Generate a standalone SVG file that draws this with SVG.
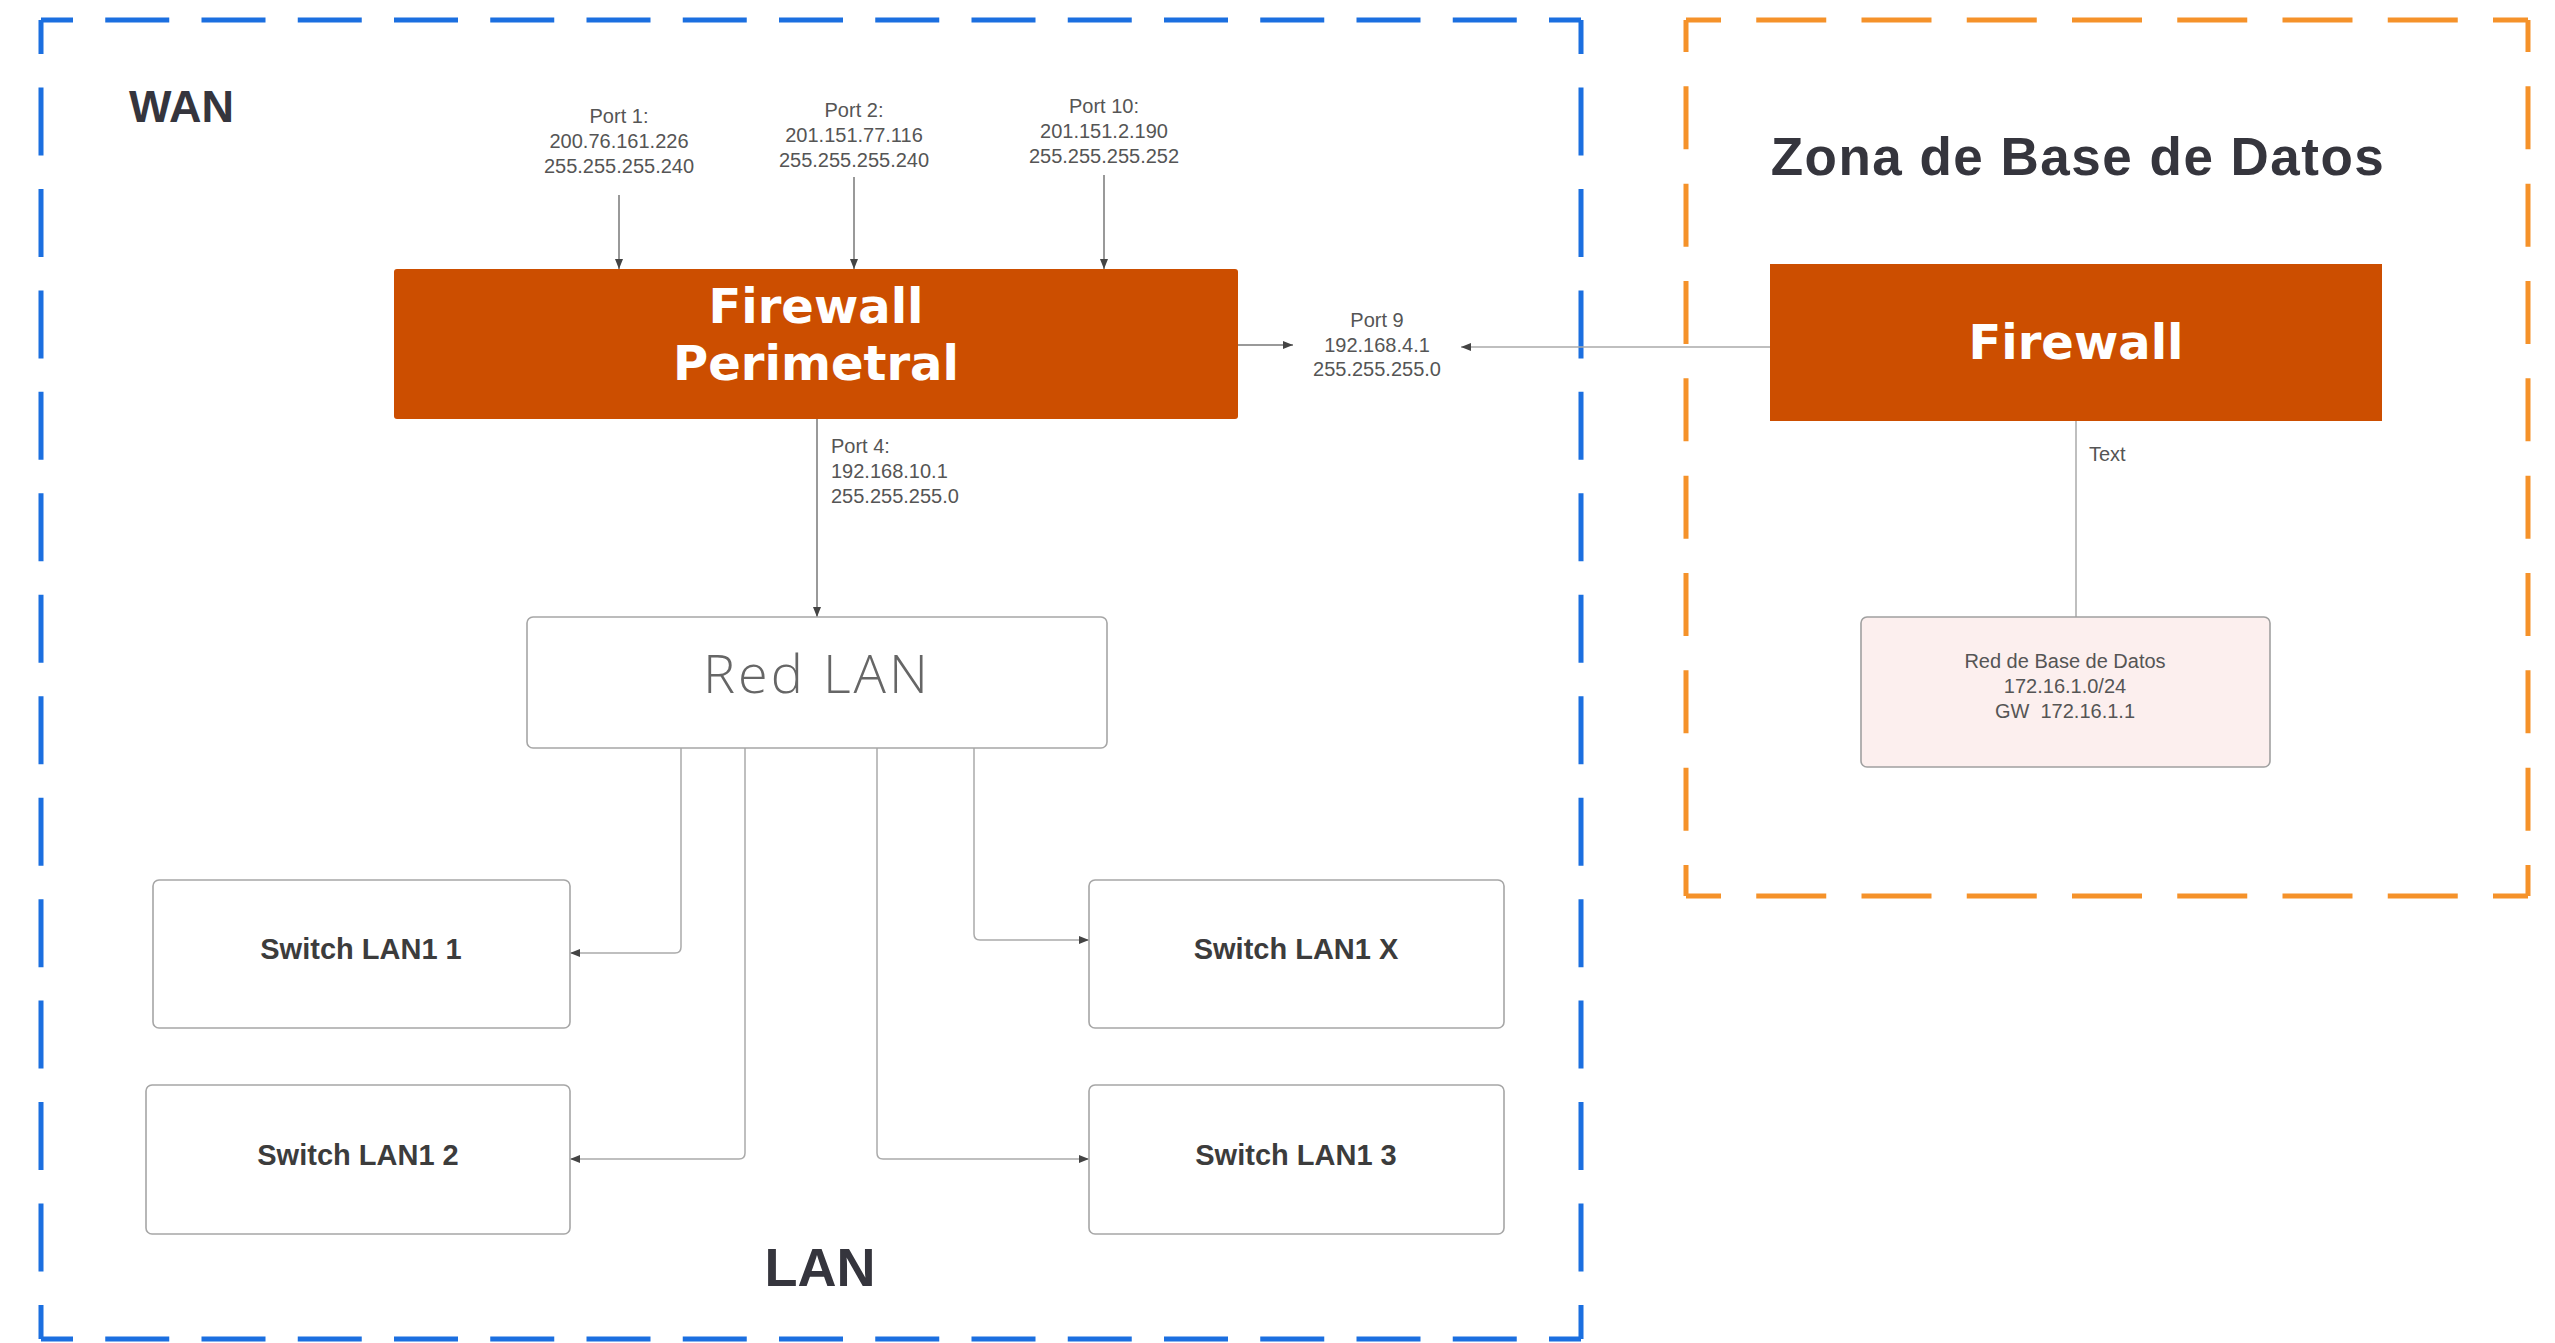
<svg xmlns="http://www.w3.org/2000/svg" width="2555" height="1343" viewBox="0 0 2555 1343">
<style>
.zone-blue{fill:none;stroke:#1b6fe0;stroke-width:5}
.zone-orange{fill:none;stroke:#f5922a;stroke-width:5}
.fw{fill:#cc4e00}
.fwt{font-family:"DejaVu Sans","Open Sans",sans-serif;font-weight:700;font-size:48px;fill:#ffffff;text-anchor:middle}
.box{fill:#ffffff;stroke:#a6a6a6;stroke-width:1.6}
.dbbox{fill:#fcefee;stroke:#a0a0a0;stroke-width:1.6}
.swt{font-family:"Liberation Sans",Arial,sans-serif;font-weight:700;font-size:29px;fill:#3c3c3c;text-anchor:middle}
.lbl{font-family:"Liberation Sans",Arial,sans-serif;font-size:20px;fill:#555555}
.mid{text-anchor:middle}
.title{font-family:"Liberation Sans",Arial,sans-serif;font-weight:700;fill:#35353d}
.redlan{font-family:"Open Sans","Lato",sans-serif;font-weight:300;font-size:54px;fill:#666666;text-anchor:middle;letter-spacing:3px}
.conn{fill:none;stroke:#777777;stroke-width:1.5}
.connl{fill:none;stroke:#aaaaaa;stroke-width:1.5}
</style>
<defs>
<marker id="arr" viewBox="0 0 10 8" refX="10" refY="4" markerWidth="11" markerHeight="8" markerUnits="userSpaceOnUse" orient="auto">
<path d="M0,0 L10,4 L0,8 z" fill="#444444"/>
</marker>
</defs>
<rect width="2555" height="1343" fill="#ffffff"/>

<g id="zone-wan">
<line class="zone-blue" x1="41" y1="20" x2="1581" y2="20" stroke-dasharray="64 32.25" stroke-dashoffset="32"/>
<line class="zone-blue" x1="41" y1="1339" x2="1581" y2="1339" stroke-dasharray="64 32.25" stroke-dashoffset="32"/>
<line class="zone-blue" x1="41" y1="20" x2="41" y2="1339" stroke-dasharray="68 33.46" stroke-dashoffset="34"/>
<line class="zone-blue" x1="1581" y1="20" x2="1581" y2="1339" stroke-dasharray="68 33.46" stroke-dashoffset="34"/>
<text class="title" x="129" y="122" font-size="45">WAN</text>
<text class="title" x="820" y="1286" font-size="54" text-anchor="middle">LAN</text>
</g>

<g id="zone-db">
<line class="zone-orange" x1="1686" y1="20" x2="2528" y2="20" stroke-dasharray="70 35.25" stroke-dashoffset="35"/>
<line class="zone-orange" x1="1686" y1="896" x2="2528" y2="896" stroke-dasharray="70 35.25" stroke-dashoffset="35"/>
<line class="zone-orange" x1="1686" y1="20" x2="1686" y2="896" stroke-dasharray="63 34.33" stroke-dashoffset="31"/>
<line class="zone-orange" x1="2528" y1="20" x2="2528" y2="896" stroke-dasharray="63 34.33" stroke-dashoffset="31"/>
<text class="title" x="2078" y="175" font-size="53" text-anchor="middle" letter-spacing="1.5">Zona de Base de Datos</text>
</g>

<g id="connectors">
<path class="conn" d="M619,195 V269" marker-end="url(#arr)"/>
<path class="conn" d="M854,177 V269" marker-end="url(#arr)"/>
<path class="conn" d="M1104,175 V269" marker-end="url(#arr)"/>
<path class="conn" d="M817,419 V617" marker-end="url(#arr)"/>
<path class="conn" d="M1238,345 H1293" marker-end="url(#arr)"/>
<path class="connl" d="M1770,347 H1461" marker-end="url(#arr)"/>
<path class="connl" d="M2076,421 V617"/>
<path class="connl" d="M681,748 V947 Q681,953 675,953 H570" marker-end="url(#arr)"/>
<path class="connl" d="M745,748 V1153 Q745,1159 739,1159 H570" marker-end="url(#arr)"/>
<path class="connl" d="M877,748 V1153 Q877,1159 883,1159 H1089" marker-end="url(#arr)"/>
<path class="connl" d="M974,748 V934 Q974,940 980,940 H1089" marker-end="url(#arr)"/>
<text class="lbl mid" x="619"><tspan x="619" y="123">Port 1:</tspan><tspan x="619" y="148">200.76.161.226</tspan><tspan x="619" y="173">255.255.255.240</tspan></text>
<text class="lbl mid" x="854"><tspan x="854" y="117">Port 2:</tspan><tspan x="854" y="142">201.151.77.116</tspan><tspan x="854" y="167">255.255.255.240</tspan></text>
<text class="lbl mid" x="1104"><tspan x="1104" y="113">Port 10:</tspan><tspan x="1104" y="138">201.151.2.190</tspan><tspan x="1104" y="163">255.255.255.252</tspan></text>
<text class="lbl" x="831"><tspan x="831" y="453">Port 4:</tspan><tspan x="831" y="478">192.168.10.1</tspan><tspan x="831" y="503">255.255.255.0</tspan></text>
<text class="lbl mid" x="1377"><tspan x="1377" y="327">Port 9</tspan><tspan x="1377" y="352">192.168.4.1</tspan><tspan x="1377" y="376">255.255.255.0</tspan></text>
<text class="lbl" x="2089" y="461" font-size="19">Text</text>
</g>

<g id="firewall-perimetral">
<rect class="fw" x="394" y="269" width="844" height="150" rx="3"/>
<text class="fwt" x="816"><tspan x="816" y="323">Firewall</tspan><tspan x="816" y="380">Perimetral</tspan></text>
</g>

<g id="firewall-db">
<rect class="fw" x="1770" y="264" width="612" height="157"/>
<text class="fwt" x="2076" y="359" font-size="49">Firewall</text>
</g>

<g id="red-lan">
<rect class="box" x="527" y="617" width="580" height="131" rx="6"/>
<text class="redlan" x="817" y="693">Red LAN</text>
</g>

<g id="switch-lan1-1">
<rect class="box" x="153" y="880" width="417" height="148" rx="6"/>
<text class="swt" x="361" y="959">Switch LAN1 1</text>
</g>

<g id="switch-lan1-2">
<rect class="box" x="146" y="1085" width="424" height="149" rx="6"/>
<text class="swt" x="358" y="1165">Switch LAN1 2</text>
</g>

<g id="switch-lan1-x">
<rect class="box" x="1089" y="880" width="415" height="148" rx="6"/>
<text class="swt" x="1296" y="959">Switch LAN1 X</text>
</g>

<g id="switch-lan1-3">
<rect class="box" x="1089" y="1085" width="415" height="149" rx="6"/>
<text class="swt" x="1296" y="1165">Switch LAN1 3</text>
</g>

<g id="red-base-datos">
<rect class="dbbox" x="1861" y="617" width="409" height="150" rx="6"/>
<text class="lbl mid" x="2065"><tspan x="2065" y="668">Red de Base de Datos</tspan><tspan x="2065" y="693">172.16.1.0/24</tspan><tspan x="2065" y="718" xml:space="preserve">GW  172.16.1.1</tspan></text>
</g>
</svg>
